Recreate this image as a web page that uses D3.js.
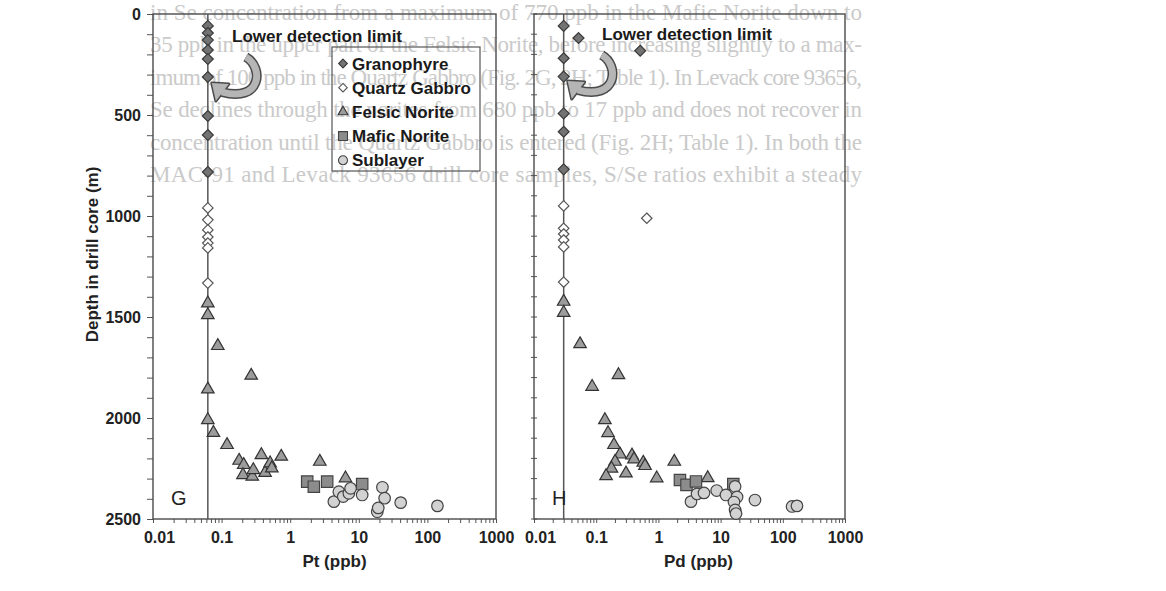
<!DOCTYPE html>
<html>
<head>
<meta charset="utf-8">
<script src="https://cdn.jsdelivr.net/npm/d3@7"></script>
<style>
  body { margin: 0; background: #fff; }
  svg text { font-family: "Liberation Sans", Arial, sans-serif; }
</style>
</head>
<body>
<svg width="1166" height="591"></svg>
<script>
// Panel G: [Pt (ppb), depth (m)]
const ptGranophyre = [[0.063, 59], [0.063, 94], [0.063, 129], [0.063, 178], [0.063, 223], [0.063, 312], [0.063, 505], [0.063, 599], [0.063, 782]];
const ptQuartzGabbro = [[0.063, 960], [0.063, 1019], [0.063, 1069], [0.063, 1104], [0.063, 1134], [0.063, 1158], [0.063, 1332]];
const ptFelsicNorite = [[0.063, 1432], [0.063, 1490], [0.088, 1643], [0.27, 1790], [0.063, 1858], [0.063, 2010], [0.076, 2073], [0.12, 2133],
  [0.18, 2211], [0.21, 2232], [0.205, 2282], [0.28, 2290], [0.29, 2257], [0.38, 2183], [0.43, 2271], [0.51, 2224], [0.54, 2249],
  [0.74, 2191], [2.7, 2216], [6.4, 2298]];
const ptMaficNorite = [[1.77, 2315], [2.21, 2340], [3.46, 2315], [11.2, 2327]];
const ptSublayer = [[4.33, 2414], [5.12, 2365], [5.93, 2389], [7.16, 2373], [7.59, 2348], [11.2, 2381], [22.1, 2343], [23.8, 2397],
  [40.8, 2419], [18.6, 2464], [19.2, 2445], [140, 2435]];

// Panel H: [Pd (ppb), depth (m)]
const pdGranophyre = [[0.03, 59], [0.052, 119], [0.51, 182], [0.03, 219], [0.03, 310], [0.03, 492], [0.03, 583], [0.03, 769]];
const pdQuartzGabbro = [[0.03, 950], [0.65, 1011], [0.03, 1061], [0.03, 1089], [0.03, 1119], [0.03, 1153], [0.03, 1327]];
const pdFelsicNorite = [[0.03, 1424], [0.03, 1479], [0.055, 1634], [0.228, 1787], [0.086, 1845], [0.138, 2010], [0.155, 2074],
  [0.193, 2133], [0.241, 2180], [0.201, 2216], [0.176, 2250], [0.144, 2287], [0.301, 2274], [0.376, 2185], [0.405, 2204],
  [0.571, 2221], [0.609, 2237], [0.94, 2298], [1.8, 2216], [6.21, 2297]];
const pdMaficNorite = [[2.22, 2307], [2.83, 2331], [4.02, 2314], [16.0, 2327]];
const pdSublayer = [[3.34, 2414], [4.18, 2376], [5.41, 2371], [8.65, 2359], [12.2, 2381], [17.1, 2339], [18.4, 2391], [16.4, 2416],
  [17.1, 2455], [17.7, 2473], [35.7, 2406], [141, 2438], [169, 2435]];

const ptDetectionLimit = 0.063;
const pdDetectionLimit = 0.03;

const rockTypes = ["Granophyre", "Quartz Gabbro", "Felsic Norite", "Mafic Norite", "Sublayer"];
const decades = [0.01, 0.1, 1, 10, 100, 1000];
const decadeLabels = ["0.01", "0.1", "1", "10", "100", "1000"];
const depthLabels = [0, 500, 1000, 1500, 2000, 2500];

// text of the facing page that shows through the scan
const ghostLines = [
  "in Se concentration from a maximum of 770 ppb in the Mafic Norite down to",
  "35 ppb in the upper part of the Felsic Norite, before increasing slightly to a max-",
  "imum of 100 ppb in the Quartz Gabbro (Fig. 2G, 2H; Table 1). In Levack core 93656,",
  "Se declines through the norites from 680 ppb to 17 ppb and does not recover in",
  "concentration until the Quartz Gabbro is entered (Fig. 2H; Table 1). In both the",
  "MAC-91 and Levack 93656 drill core samples, S/Se ratios exhibit a steady"
];

const svg = d3.select("svg");

const diamond = {
  draw(ctx, size) {
    const r = Math.sqrt(size / 2);
    ctx.moveTo(0, -r); ctx.lineTo(r, 0); ctx.lineTo(0, r); ctx.lineTo(-r, 0); ctx.closePath();
  }
};

const markStyle = {
  "Granophyre":    { type: diamond,            size: 60,  legendSize: 38, fill: "#737373", stroke: "#3a3a3a" },
  "Quartz Gabbro": { type: diamond,            size: 55,  legendSize: 36, fill: "#ffffff", stroke: "#555" },
  "Felsic Norite": { type: d3.symbolTriangle,  size: 68,  legendSize: 42, fill: "#9c9c9c", stroke: "#333" },
  "Mafic Norite":  { type: d3.symbolSquare,    size: 130, legendSize: 80, fill: "#8c8c8c", stroke: "#444" },
  "Sublayer":      { type: d3.symbolCircle,    size: 105, legendSize: 64, fill: "#d2d2d2", stroke: "#444" }
};

// ghost text layer
svg.append("g").selectAll("text")
  .data(ghostLines)
  .join("text")
  .attr("x", 150)
  .attr("y", (d, i) => 20 + i * 32.4)
  .attr("textLength", 712)
  .attr("lengthAdjust", "spacing")
  .style("font-family", "'Liberation Serif', 'Times New Roman', serif")
  .style("font-size", "23px")
  .attr("fill", "#cacaca")
  .text(d => d);

const y = d3.scaleLinear().domain([0, 2500]).range([14, 519]);

// curved hook arrow, tip at (tx, ty) pointing up-left at the limit line
function drawArrow(g, tx, ty) {
  const body = `M${tx + 34},${ty - 26} C${tx + 52},${ty - 16} ${tx + 50},${ty + 20} ${tx + 10},${ty + 9}`;
  const head = `M${tx},${ty} L${tx + 17},${ty + 1} L${tx + 4},${ty + 18} Z`;
  g.append("path").attr("d", body).attr("fill", "none").attr("stroke", "#4a4a4a").attr("stroke-width", 10);
  g.append("path").attr("d", head).attr("fill", "#4a4a4a").attr("stroke", "#4a4a4a")
    .attr("stroke-width", 3).attr("stroke-linejoin", "round");
  g.append("path").attr("d", body).attr("fill", "none").attr("stroke", "#b5b5b5").attr("stroke-width", 7);
  g.append("path").attr("d", head).attr("fill", "#b5b5b5");
}

function drawPanel(cfg) {
  const x = d3.scaleLog().domain([0.01, 1000]).range(cfg.range);
  const g = svg.append("g");
  const [x0, x1] = cfg.range;

  // x axis with log minor ticks
  const xTicks = [];
  decades.forEach(d => { for (let k = 1; k < 10; k++) if (d * k <= 1000.0001) xTicks.push(d * k); });
  const xAxis = g.append("g")
    .attr("transform", `translate(0,${y(2500)})`)
    .call(d3.axisBottom(x).tickValues(xTicks).tickSize(4).tickPadding(9)
      .tickFormat(d => { const i = decades.findIndex(v => Math.abs(v - d) < d * 1e-6); return i >= 0 ? decadeLabels[i] : ""; }));
  xAxis.select(".domain").remove();
  xAxis.selectAll("line").attr("stroke", "#555");
  xAxis.selectAll("text")
    .attr("dx", d => Math.abs(d - 0.01) < 1e-9 ? 6 : 0)
    .style("font-size", "16px").style("font-weight", "bold").attr("fill", "#222");

  // y axis
  if (cfg.yLabels) {
    const yAxis = g.append("g")
      .attr("transform", `translate(${x0},0)`)
      .call(d3.axisLeft(y).tickValues(d3.range(0, 2501, 100)).tickSize(6).tickPadding(6)
        .tickFormat(d => depthLabels.includes(d) ? d : ""));
    yAxis.select(".domain").remove();
    yAxis.selectAll("line").attr("stroke", "#555");
    yAxis.selectAll("text").style("font-size", "16px").style("font-weight", "bold").attr("fill", "#222");

    g.append("text")
      .attr("transform", `translate(98,${(y(0) + y(2500)) / 2 - 12}) rotate(-90)`)
      .attr("text-anchor", "middle")
      .style("font-size", "17px").style("font-weight", "bold").attr("fill", "#222")
      .text("Depth in drill core (m)");
  } else {
    g.append("g").selectAll("line")
      .data(d3.range(0, 2501, 100))
      .join("line")
      .attr("x1", x0 - 3).attr("x2", x0 + 3)
      .attr("y1", d => y(d)).attr("y2", d => y(d))
      .attr("stroke", "#555");
  }

  // frame
  g.append("rect")
    .attr("x", x0).attr("y", y(0))
    .attr("width", x1 - x0).attr("height", y(2500) - y(0))
    .attr("fill", "none").attr("stroke", "#4a4a4a").attr("stroke-width", 1.4);

  // detection limit
  g.append("line")
    .attr("x1", x(cfg.limit)).attr("x2", x(cfg.limit))
    .attr("y1", y(0)).attr("y2", y(2500))
    .attr("stroke", "#555").attr("stroke-width", 1.5);

  // points
  cfg.series.forEach((data, i) => {
    const st = markStyle[rockTypes[i]];
    g.append("g").selectAll("path")
      .data(data)
      .join("path")
      .attr("transform", d => `translate(${x(d[0])},${y(d[1])})`)
      .attr("d", d3.symbol(st.type, st.size))
      .attr("fill", st.fill)
      .attr("stroke", st.stroke)
      .attr("stroke-width", 1.2);
  });

  // annotation
  g.append("text")
    .attr("x", cfg.noteX).attr("y", cfg.noteY)
    .style("font-size", "17px").style("font-weight", "bold").attr("fill", "#1a1a1a")
    .text("Lower detection limit");
  drawArrow(g, x(cfg.limit) + 4, cfg.arrowY);

  g.append("text")
    .attr("x", x0 + 18).attr("y", 505)
    .style("font-size", "20px").attr("fill", "#222")
    .text(cfg.letter);

  g.append("text")
    .attr("x", (x0 + x1) / 2 + cfg.titleShift).attr("y", 567)
    .attr("text-anchor", "middle")
    .style("font-size", "17px").style("font-weight", "bold").attr("fill", "#222")
    .text(cfg.xTitle);

  if (cfg.legend) {
    const lg = g.append("g");
    lg.append("rect")
      .attr("x", 332).attr("y", 47).attr("width", 148).attr("height", 124)
      .attr("fill", "none").attr("stroke", "#555").attr("stroke-width", 1.2);
    rockTypes.forEach((name, i) => {
      const st = markStyle[name];
      const cy = 63.5 + i * 24.2;
      lg.append("path")
        .attr("transform", `translate(343,${cy})`)
        .attr("d", d3.symbol(st.type, st.legendSize))
        .attr("fill", st.fill).attr("stroke", st.stroke).attr("stroke-width", 1.1);
      lg.append("text")
        .attr("x", 352).attr("y", cy + 6)
        .style("font-size", "17px").style("font-weight", "bold").attr("fill", "#1a1a1a")
        .text(name);
    });
  }
}

drawPanel({
  range: [153, 496], limit: ptDetectionLimit, yLabels: true, legend: true,
  series: [ptGranophyre, ptQuartzGabbro, ptFelsicNorite, ptMaficNorite, ptSublayer],
  letter: "G", xTitle: "Pt (ppb)", titleShift: 10, noteX: 232, noteY: 42, arrowY: 83
});

drawPanel({
  range: [534, 845], limit: pdDetectionLimit, yLabels: false, legend: false,
  series: [pdGranophyre, pdQuartzGabbro, pdFelsicNorite, pdMaficNorite, pdSublayer],
  letter: "H", xTitle: "Pd (ppb)", titleShift: 9, noteX: 602, noteY: 40, arrowY: 81
});
</script>
</body>
</html>
